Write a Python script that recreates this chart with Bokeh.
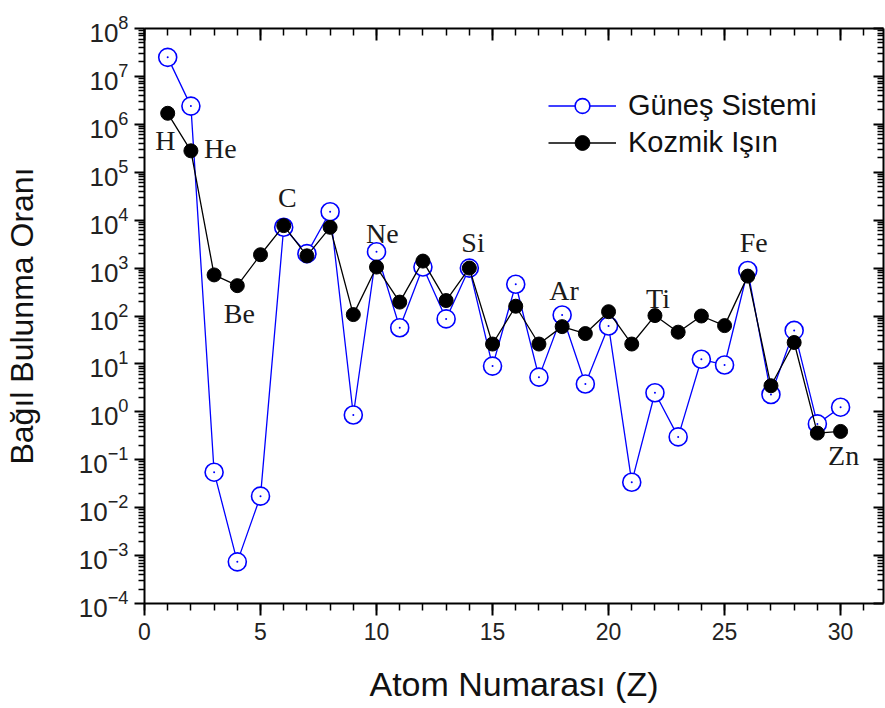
from bokeh.plotting import figure
from bokeh.models import (Range1d, LogAxis, FixedTicker, SingleIntervalTicker, LinearAxis,
                          LogTickFormatter, Legend, LegendItem, ColumnDataSource)
from bokeh.core.properties import value
from bokeh.embed import file_html
from bokeh.resources import INLINE

# ---- data ----
atom_z = list(range(1, 31))
gunes_sistemi = [2.5e7, 2.4e6, 0.055, 7.4e-4, 0.0174, 7.1e3, 2.0e3, 1.5e4, 0.86, 2.2e3,
                 57, 1.05e3, 87, 1.0e3, 9.0, 460, 5.3, 105, 3.8, 62,
                 0.034, 2.5, 0.30, 12.5, 9.5, 890, 2.3, 50, 0.56, 1.25]
kozmik_isin = [1.7e6, 2.8e5, 720, 430, 1.9e3, 7.7e3, 1.8e3, 7.1e3, 107, 1.05e3,
               195, 1.4e3, 210, 1.0e3, 26, 160, 26, 60, 43, 123,
               26, 102, 46, 100, 63, 680, 3.5, 28, 0.36, 0.39]

element_labels = ["H", "He", "C", "Be", "Ne", "Si", "Ar", "Ti", "Fe", "Zn"]
label_x = [0.90, 3.27, 6.16, 4.09, 10.25, 14.16, 18.08, 22.13, 26.26, 30.13]
label_y = [4.6e5, 3.1e5, 2.97e4, 113, 5.3e3, 3.4e3, 341, 232, 3.4e3, 0.123]

x_ticks = [0, 5, 10, 15, 20, 25, 30]
y_major = [10.0 ** k for k in range(-4, 9)]
y_minor = [m * 10.0 ** k for k in range(-4, 8) for m in range(2, 10)]

p = figure(width=885, height=708, output_backend="svg", toolbar_location=None,
           x_range=Range1d(0, 31.85), y_range=Range1d(1e-4, 1e8),
           y_axis_type="log", x_axis_location=None, y_axis_location=None,
           min_border_left=143, min_border_right=2, min_border_top=28, min_border_bottom=105)
p.outline_line_color = None
p.xgrid.visible = False
p.ygrid.visible = False
p.background_fill_color = "white"

FONT = "Liberation Sans"

# axes
xt = SingleIntervalTicker(interval=5, num_minor_ticks=5)
yt = FixedTicker(ticks=y_major, minor_ticks=y_minor)

bottom = LinearAxis(ticker=xt, axis_label="Atom Numarası (Z)")
left = LogAxis(ticker=yt, formatter=LogTickFormatter(), axis_label="Bağıl Bulunma Oranı")
top = LinearAxis(ticker=xt)
right = LogAxis(ticker=yt)

for ax in (bottom, left, top, right):
    ax.axis_line_width = 2
    ax.axis_line_color = "black"
    ax.major_tick_line_width = 2
    ax.minor_tick_line_width = 1.5
    ax.major_tick_line_color = "black"
    ax.minor_tick_line_color = "black"
    ax.major_label_text_font = FONT
    ax.axis_label_text_font = FONT
    ax.axis_label_text_font_style = "normal"
    ax.axis_label_text_color = "#111111"
    ax.major_label_text_color = "#222222"

bottom.major_tick_out = 12; bottom.major_tick_in = 0
bottom.minor_tick_out = 7; bottom.minor_tick_in = 0
bottom.major_label_text_font_size = "23px"
bottom.major_label_standoff = 7
bottom.axis_label_text_font_size = "34px"
bottom.axis_label_standoff = 22

left.major_tick_out = 10; left.major_tick_in = 0
left.minor_tick_out = 6; left.minor_tick_in = 0
left.major_label_text_font_size = "26px"
left.major_label_standoff = 6
left.axis_label_text_font_size = "32px"
left.axis_label_standoff = 36

for ax in (top, right):
    ax.major_tick_out = 0; ax.minor_tick_out = 0
    ax.major_label_text_font_size = "1px"
    ax.major_label_text_color = None
    ax.major_label_standoff = 0
top.major_tick_in = 12; top.minor_tick_in = 7
right.major_tick_in = 10; right.minor_tick_in = 6

p.add_layout(bottom, "below")
p.add_layout(left, "left")
p.add_layout(top, "above")
p.add_layout(right, "right")

# series
src_g = ColumnDataSource(dict(z=atom_z, v=gunes_sistemi))
src_k = ColumnDataSource(dict(z=atom_z, v=kozmik_isin))

gl = p.line("z", "v", source=src_g, line_color="#0000ff", line_width=1.3)
gs = p.scatter("z", "v", source=src_g, marker="circle", size=18, line_color="#0000ff",
               line_width=1.6, fill_color="white")
p.scatter("z", "v", source=src_g, marker="circle", size=2, line_color=None,
          fill_color="#0000ff")
kl = p.line("z", "v", source=src_k, line_color="black", line_width=1.3)
ks = p.scatter("z", "v", source=src_k, marker="circle", size=14, line_color="black",
               fill_color="black")

# element labels
src_l = ColumnDataSource(dict(x=label_x, y=label_y, t=element_labels))
p.text("x", "y", text="t", source=src_l, text_font=value("Liberation Serif"),
       text_font_size="28px", text_align="center", text_baseline="middle",
       text_color="#1a1a1a")

legend = Legend(items=[LegendItem(label="Güneş Sistemi", renderers=[gl, gs]),
                       LegendItem(label="Kozmik Işın", renderers=[kl, ks])],
                location=(404, 442), border_line_color=None, background_fill_alpha=0,
                padding=0, margin=0, spacing=0, glyph_width=68, glyph_height=37,
                label_standoff=12, label_text_font=FONT, label_text_font_size="29px",
                label_text_color="#111111", label_height=37)
p.add_layout(legend, "center")

open("out.html", "w").write(file_html(p, INLINE))
